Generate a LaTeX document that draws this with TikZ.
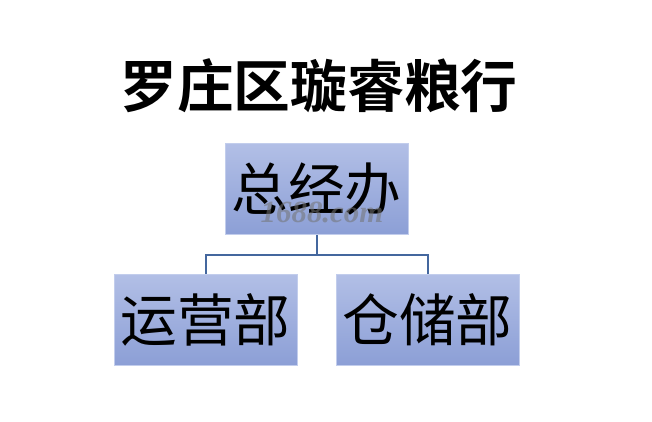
\documentclass[tikz,border=0pt]{standalone}
\usepackage{fontspec}
\newfontfamily\cjk{Noto Sans CJK SC}
\newfontfamily\cjkbold{Noto Sans CJK SC Bold}
\newfontfamily\wmfont{Liberation Serif}
\begin{document}
\begin{tikzpicture}[x=1bp,y=-1bp,
  orgbox/.style={rectangle, minimum width=183bp, minimum height=91bp, inner sep=0pt,
    top color=boxtop, bottom color=boxbot, draw=boxedge, line width=0.6bp,
    font=\cjk\fontsize{57}{57}\selectfont},
  link/.style={draw=linkcol, line width=2bp}]
\definecolor{boxtop}{HTML}{B2BFE6}
\definecolor{boxbot}{HTML}{8C9FD6}
\definecolor{boxedge}{HTML}{C2CDEC}
\definecolor{linkcol}{HTML}{44679E}
\useasboundingbox (0,0) rectangle (652,421);
\fill[white] (0,0) rectangle (652,421);
\node[font=\cjkbold\fontsize{57}{57}\selectfont, inner sep=0pt] (title) at (319,86) {罗庄区璇睿粮行};
\node[orgbox] (top) at (316.5,189) {总经办};
\node[orgbox] (left) at (205.5,319.5) {运营部};
\node[orgbox] (right) at (427.5,319.5) {仓储部};
\node[font=\wmfont\bfseries\itshape\fontsize{31}{31}\selectfont, text=black!55, opacity=0.55, inner sep=0pt] (wm) at (322,212) {1688.com};
\coordinate (mid) at (316.5,255);
\draw[link] (top.south) -- (mid);
\draw[link] (left.north) |- (mid) -| (right.north);
\end{tikzpicture}
\end{document}
